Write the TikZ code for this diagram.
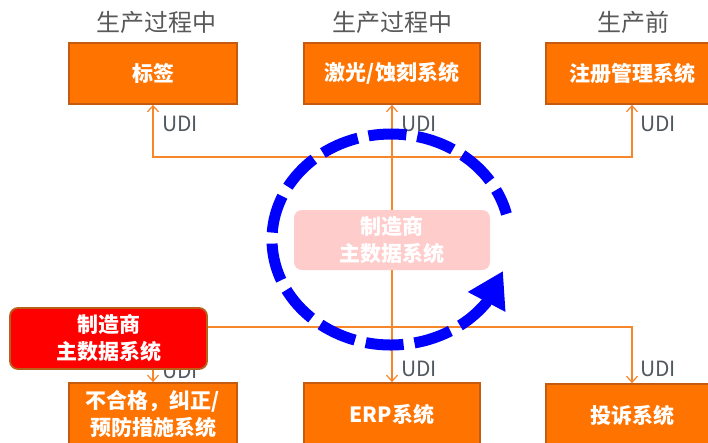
\documentclass[tikz,border=0pt]{standalone}
\usepackage{fontspec}
\setmainfont{Noto Sans CJK SC}
\usetikzlibrary{arrows.meta,calc}
\definecolor{boxfill}{HTML}{FF7300}
\definecolor{boxline}{HTML}{C55A11}
\definecolor{connc}{HTML}{F7862A}
\definecolor{titlegray}{HTML}{595959}
\definecolor{udigray}{HTML}{505860}
\definecolor{pinkfill}{HTML}{FFCCCC}
\definecolor{redline}{HTML}{B8601A}
\definecolor{cyclecol}{HTML}{0000FF}
\begin{document}
\begin{tikzpicture}[x=1pt,y=-1pt,
  sysbox/.style={draw=boxline, line width=1.8pt, fill=boxfill, text=white,
    font=\fontsize{21}{27}\selectfont\bfseries, align=center, inner sep=0pt},
  masterbox/.style={draw=redline, line width=1.8pt, fill=red, rounded corners=8pt,
    text=white, font=\fontsize{21}{27}\selectfont\bfseries, align=center,
    minimum width=197pt, minimum height=61pt, inner sep=0pt},
  ghostbox/.style={fill=pinkfill, rounded corners=8pt, text=white,
    font=\fontsize{21}{27}\selectfont\bfseries, align=center,
    minimum width=196pt, minimum height=60pt, inner sep=0pt},
  phase/.style={text=titlegray, font=\fontsize{24}{28}\selectfont},
  udi/.style={text=udigray, font=\fontsize{21}{24}\selectfont, anchor=west, inner sep=0pt},
  conn/.style={draw=connc, line width=1.4pt},
  arr/.style={conn, -{Straight Barb[length=6pt,width=11pt,line width=1.2pt]}},
  cycle/.style={draw=cyclecol, line width=11pt, dash pattern=on 38pt off 11pt,
    {Triangle[length=35pt,width=40pt]}-}
]
\fill[white] (0,0) rectangle (708,442);
\useasboundingbox (0,0) rectangle (708,442);

% phase titles
\node[phase] (t1) at (156,22) {生产过程中};
\node[phase] (t2) at (392,22) {生产过程中};
\node[phase] (t3) at (633,22) {生产前};

% UDI labels
\node[udi] (u1) at (162,124) {UDI};
\node[udi] (u2) at (401,124) {UDI};
\node[udi] (u3) at (640,124) {UDI};
\node[udi] (u4) at (162,371) {UDI};
\node[udi] (u5) at (401,369) {UDI};
\node[udi] (u6) at (640,369) {UDI};

% system boxes
\node[sysbox, minimum width=168pt, minimum height=61pt] (b1) at (153,73.5) {标签};
\node[sysbox, minimum width=176pt, minimum height=61pt] (b2) at (392,73.5) {激光/蚀刻系统};
\node[sysbox, minimum width=172pt, minimum height=61pt] (b3) at (632,73.5) {注册管理系统};
\node[sysbox, minimum width=168pt, minimum height=62pt] (ncr) at (153,414) {不合格，纠正/\\预防措施系统};
\node[sysbox, minimum width=176pt, minimum height=62pt] (erp) at (392,414) {ERP系统};
\node[sysbox, minimum width=172pt, minimum height=62pt] (cmp) at (632,415) {投诉系统};

\node[masterbox] (red) at (108.5,338.5) {制造商\\主数据系统};

% connectors
\coordinate (jt) at (392,157);
\coordinate (jb) at (392,327);
\draw[arr] (jt) -| (b1.south);
\draw[arr] (jt) -| (b3.south);
\draw[arr] (jb) -- (b2.south);
\draw[arr] (jb) -- (erp.north);
\draw[conn] (red.east |- jb) -- (jb);
\draw[arr] (jb) -| (cmp.north);
\draw[arr] (ncr.north |- red.south) -- (ncr.north);

% faded master data box
\node[ghostbox] (ghost) at (392,240) {制造商\\主数据系统};

% cycle arrow (drawn from the arrow head backwards)
\coordinate (cyctip) at (503,271);
\coordinate (cycbase) at ($(391,239.5)+(-323:119 and 105.5)$);
\draw[cycle] (cyctip) -- (cycbase)
  arc[start angle=-323, end angle=-14, x radius=119, y radius=105.5];
\end{tikzpicture}
\end{document}
